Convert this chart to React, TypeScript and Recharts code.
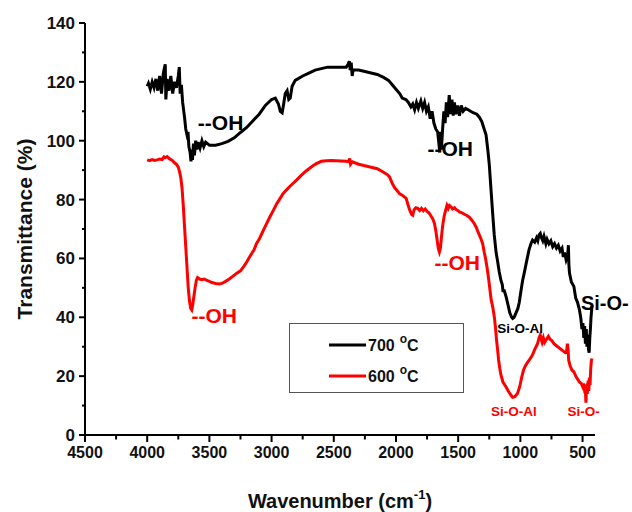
import React from 'react';
import {
  LineChart,
  Line,
  XAxis,
  YAxis,
  ReferenceDot,
  Legend,
} from 'recharts';

// 700 °C spectrum (wavenumber, transmittance)
const wn700 = [
  4000, 3990, 3975, 3960, 3945, 3930, 3915, 3900, 3885, 3870, 3855, 3850, 3840, 3825, 3810, 3795,
  3780, 3765, 3750, 3742, 3735, 3725, 3715, 3700, 3690, 3680, 3672, 3665, 3655, 3648, 3642, 3636,
  3628, 3620, 3610, 3600, 3590, 3575, 3560, 3545, 3530, 3500, 3450, 3400, 3350, 3300, 3250, 3200,
  3150, 3100, 3050, 3000, 2970, 2945, 2930, 2915, 2905, 2890, 2875, 2862, 2850, 2835, 2810, 2750,
  2700, 2650, 2600, 2550, 2500, 2450, 2400, 2385, 2375, 2368, 2360, 2352, 2345, 2300, 2250, 2200,
  2150, 2100, 2060, 2030, 2000, 1970, 1950, 1920, 1900, 1880, 1865, 1850, 1835, 1820, 1800, 1785,
  1770, 1755, 1740, 1725, 1710, 1695, 1680, 1665, 1655, 1648, 1642, 1635, 1625, 1615, 1605, 1595,
  1585, 1572, 1560, 1550, 1540, 1530, 1520, 1505, 1490, 1475, 1460, 1440, 1420, 1400, 1380, 1350,
  1330, 1310, 1295, 1276, 1262, 1250, 1237, 1223, 1210, 1195, 1183, 1170, 1156, 1145, 1140, 1129,
  1115, 1102, 1085, 1070, 1062, 1050, 1035, 1020, 1009, 995, 982, 969, 950, 930, 915, 902,
  885, 870, 860, 850, 840, 830, 820, 810, 795, 785, 770, 755, 740, 725, 710, 695,
  680, 665, 655, 645, 632, 620, 614, 610, 605, 590, 570, 555, 540, 525, 515, 505,
  497, 490, 483, 477, 470, 465, 458, 452, 447, 442, 437, 432, 428, 425,
];
const t700 = [
  118.5, 119.5, 117.5, 120, 118, 121, 117, 122, 116, 123, 126, 114, 121, 117, 122, 116,
  120, 118, 122, 125, 116, 119, 113, 108, 104, 102, 103, 98, 96, 93, 97, 93.5,
  99, 95, 100, 97, 99.5, 97.5, 100, 98, 99.5, 98.5, 98.5, 99, 99.8, 101, 102.8, 104.5,
  106.8, 109, 112, 114, 114.5, 112.5, 110, 109.5, 112, 116, 117, 114, 114.5, 118.5, 120.5, 122,
  123, 124, 124.5, 125, 125, 125, 125, 126, 127, 124, 126.5, 122, 124, 124, 123.5, 123,
  122.5, 121.5, 120.5, 119, 117.5, 116, 114.5, 114, 113, 111.5, 112.5, 110.5, 113, 111, 113.5, 111,
  113, 110, 111.5, 107.5, 110, 106, 104, 103, 99, 96, 103, 97, 104, 110, 106, 113,
  108, 115.5, 109, 114, 108.5, 113, 109, 112, 108.5, 112, 110, 111, 110.5, 110, 109.5, 109,
  108, 106.5, 104.5, 102, 97, 92, 84, 75.5, 68, 62, 59, 55.5, 52.5, 51, 49, 49,
  47, 44.7, 41.5, 40, 39.6, 40, 41.5, 43, 45, 49, 52.5, 55, 59, 63, 65, 66.2,
  65.5, 67, 66, 68, 68.5, 67, 66, 67.5, 65, 66.5, 65, 66, 64, 65, 63.5, 64.5,
  62.5, 63.5, 60.5, 62, 59.5, 61, 64.5, 58, 55, 52, 50.5, 46.5, 45, 42.5, 40, 36,
  38, 33, 37, 31, 36, 30, 34, 29, 28, 33, 36, 40, 42, 44,
];

// 600 °C spectrum
const wn600 = [
  4000, 3980, 3960, 3940, 3920, 3900, 3880, 3865, 3855, 3840, 3820, 3800, 3780, 3765, 3750, 3740,
  3730, 3720, 3710, 3700, 3690, 3680, 3670, 3660, 3650, 3642, 3635, 3625, 3615, 3605, 3595, 3580,
  3560, 3540, 3520, 3500, 3480, 3450, 3420, 3400, 3370, 3340, 3310, 3280, 3250, 3220, 3200, 3170,
  3140, 3122, 3100, 3080, 3050, 3015, 2990, 2960, 2930, 2908, 2880, 2850, 2820, 2800, 2760, 2720,
  2668, 2640, 2600, 2560, 2520, 2480, 2440, 2400, 2380, 2372, 2365, 2350, 2300, 2250, 2200, 2150,
  2100, 2070, 2052, 2030, 2010, 1990, 1972, 1950, 1935, 1918, 1905, 1890, 1875, 1865, 1855, 1840,
  1825, 1810, 1795, 1780, 1765, 1750, 1735, 1720, 1705, 1691, 1680, 1670, 1660, 1651, 1643, 1635,
  1625, 1612, 1600, 1590, 1580, 1570, 1557, 1545, 1530, 1515, 1500, 1490, 1470, 1450, 1430, 1410,
  1390, 1370, 1356, 1340, 1320, 1303, 1290, 1280, 1268, 1255, 1245, 1235, 1222, 1209, 1200, 1192,
  1183, 1175, 1165, 1156, 1140, 1116, 1095, 1075, 1062, 1045, 1022, 1005, 990, 975, 960, 945,
  928, 905, 885, 862, 850, 840, 832, 825, 815, 805, 790, 775, 760, 745, 730, 715,
  700, 685, 670, 655, 640, 628, 622, 616, 612, 600, 585, 570, 555, 540, 525, 510,
  500, 492, 485, 478, 473, 468, 462, 455, 450, 445, 440, 435, 430, 425,
];
const t600 = [
  93.5, 93.2, 93.6, 93.3, 93.5, 93.8, 93.6, 94.5, 94.2, 94.6, 93.8, 93.4, 92.5, 92, 91, 89.5,
  87.5, 84, 78, 71, 64, 57, 50, 45.5, 43, 42.5, 44, 47, 50, 52.5, 53.5, 53,
  52.8, 53, 52.5, 52.2, 51.8, 51.5, 51.3, 51.5, 52.2, 53, 54, 55, 55.8, 57.5, 58.8, 61,
  63, 65, 66.5, 68.3, 71, 74, 76, 78.5, 80.5, 82, 83.3, 84.6, 85.8, 86.6, 88.3, 89.8,
  91.5, 92.2, 93, 93.2, 93.3, 93.2, 93.1, 93, 92.9, 94, 92, 92.8, 92, 91.5, 91, 90.5,
  89.3, 88.5, 87.7, 85.5, 84, 83, 82, 81.5, 81, 80.4, 78.5, 76.5, 75, 74.7, 76.5, 77.2,
  77, 76.3, 77, 76.2, 76.8, 76, 75.5, 74.5, 73.5, 72, 69.5, 66.5, 63.5, 62.2, 63.5, 67,
  71, 74.5, 76.5, 78, 77, 78, 77.5, 76.8, 77.2, 76.5, 76.2, 75.8, 75.5, 75, 74.6, 74,
  73, 71.8, 70.7, 69, 67, 65, 62, 60, 57, 53, 49.5, 46, 43.5, 40, 36.5, 32.5,
  29, 25.5, 22.5, 20.4, 18, 16.4, 14.8, 13.5, 12.8, 13, 14.2, 16.5, 19.5, 22, 23.5, 24.5,
  25.5, 27, 29, 31, 33, 34, 32.5, 31.5, 33, 31.5, 32.5, 33.5, 32.5, 32, 31, 30.5,
  30, 29.5, 29, 28.5, 28, 28.5, 31, 29, 25.5, 23.5, 22, 21.5, 20, 19, 18, 17.5,
  16.5, 17.5, 15.5, 16, 11, 16, 14, 18.5, 15, 19.5, 17, 22, 25, 26,
];

const xTicks = [4500, 4250, 4000, 3750, 3500, 3250, 3000, 2750, 2500, 2250, 2000, 1750, 1500, 1250, 1000, 750, 500];
const yTicks = [0, 10, 20, 30, 40, 50, 60, 70, 80, 90, 100, 110, 120, 130, 140];

// band labels: [text, wavenumber, transmittance, colour, size]
const bandLabels: [string, number, number, string, number][] = [
  ['--OH', 3593, 103.6, '#000', 21],
  ['--OH', 1747, 94.7, '#000', 21],
  ['--OH', 3644, 38.1, '#ff0000', 21],
  ['--OH', 1691, 56, '#ff0000', 21],
  ['Si-O-', 513, 42.4, '#000', 20],
  ['Si-O-Al', 1185, 34.5, '#000', 13.5],
  ['Si-O-Al', 1236, 6.4, '#ff0000', 13.5],
  ['Si-O-', 621, 6.4, '#ff0000', 13.5],
];

const series = [
  { name: '700', color: '#000000', data: wn700.map((w, i) => ({ w, t: t700[i] })) },
  { name: '600', color: '#ff0000', data: wn600.map((w, i) => ({ w, t: t600[i] })) },
];

const FONT = '"Liberation Sans", Arial, sans-serif';

function XTick({ x, y, payload }: any) {
  const major = payload.value % 500 === 0;
  return (
    <g>
      <line x1={x} x2={x} y1={y} y2={y + (major ? 7 : 4.5)} stroke="#000" strokeWidth={2} />
      {major && (
        <text x={x} y={y + 23} textAnchor="middle" fontSize={16} fontWeight="bold" fontFamily={FONT} fill="#111">
          {payload.value}
        </text>
      )}
    </g>
  );
}

function YTick({ x, y, payload }: any) {
  const major = payload.value % 20 === 0;
  return (
    <g>
      <line x1={x} x2={x - (major ? 6 : 3)} y1={y} y2={y} stroke="#000" strokeWidth={2} />
      {major && (
        <text x={x - 10} y={y + 6} textAnchor="end" fontSize={17} fontWeight="bold" fontFamily={FONT} fill="#111">
          {payload.value}
        </text>
      )}
    </g>
  );
}

function LegendBox() {
  return (
    <div
      style={{
        width: 173,
        height: 68,
        border: '1.5px solid #555',
        background: '#fff',
        fontFamily: FONT,
      }}
    >
      <svg width={173} height={68}>
        {series.map((s, i) => (
          <g key={s.name} transform={`translate(0, ${21 + i * 31})`}>
            <line x1={39} x2={76} y1={0} y2={0} stroke={s.color} strokeWidth={3} />
            <text x={78} y={6} fontSize={16} fontWeight="bold" fill="#111">
              {s.name}
              <tspan dx={5} dy={-8} fontSize={12}>o</tspan>
              <tspan dy={8} fontSize={16}>C</tspan>
            </text>
          </g>
        ))}
      </svg>
    </div>
  );
}

export default function App() {
  return (
    <div style={{ position: 'absolute', left: 0, top: 0, background: '#fff' }}>
      <LineChart width={632} height={512} margin={{ top: 23, right: 37, left: 0, bottom: 0 }}>
        <XAxis
          type="number"
          dataKey="w"
          domain={[400, 4500]}
          reversed
          ticks={xTicks}
          interval={0}
          tickSize={0}
          tickMargin={0}
          tick={<XTick />}
          height={77}
          axisLine={{ stroke: '#000', strokeWidth: 2 }}
          allowDataOverflow
          label={(props: any) => {
            const vb = props.viewBox;
            return (
              <text x={vb.x + vb.width / 2} y={vb.y + 73} textAnchor="middle" fontSize={20} fontWeight="bold" fontFamily={FONT} fill="#111">
                Wavenumber (cm
                <tspan dy={-9} fontSize={13}>-1</tspan>
                <tspan dy={9}>)</tspan>
              </text>
            );
          }}
        />
        <YAxis
          type="number"
          domain={[0, 140]}
          ticks={yTicks}
          interval={0}
          tickSize={0}
          tickMargin={0}
          tick={<YTick />}
          width={85}
          axisLine={{ stroke: '#000', strokeWidth: 2 }}
          label={(props: any) => {
            const vb = props.viewBox;
            const cy = vb.y + vb.height / 2;
            return (
              <text x={32} y={cy} transform={`rotate(-90, 32, ${cy})`} textAnchor="middle" fontSize={21} fontWeight="bold" fontFamily={FONT} fill="#111">
                Transmittance (%)
              </text>
            );
          }}
        />
        <Legend
          layout="vertical"
          align="center"
          verticalAlign="middle"
          wrapperStyle={{ left: 289, top: 323, width: 176, height: 71 }}
          content={() => <LegendBox />}
        />
        {series.map((s) => (
          <Line
            key={s.name}
            data={s.data}
            dataKey="t"
            name={s.name}
            type="linear"
            stroke={s.color}
            strokeWidth={3}
            dot={false}
            isAnimationActive={false}
          />
        ))}
        {bandLabels.map(([text, w, t, color, size], i) => (
          <ReferenceDot
            key={i}
            x={w}
            y={t}
            r={0}
            ifOverflow="visible"
            shape={(p: any) => (
              <text x={p.cx} y={p.cy} fontSize={size} fontWeight="bold" fontFamily={FONT} fill={color}>
                {text}
              </text>
            )}
          />
        ))}
      </LineChart>
    </div>
  );
}
